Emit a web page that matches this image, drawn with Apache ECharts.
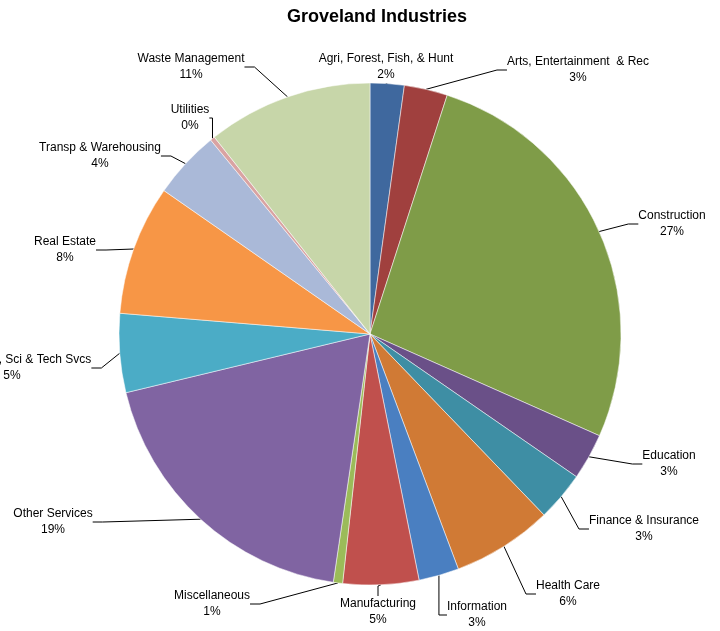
<!DOCTYPE html>
<html>
<head>
<meta charset="utf-8">
<script src="https://cdn.jsdelivr.net/npm/echarts@6/dist/echarts.min.js"></script>
<style>
  html, body { margin: 0; padding: 0; background: #fff; }
  #chart { width: 720px; height: 631px; }
</style>
</head>
<body>
<div id="chart"></div>
<script>
// industry shares (clockwise from 12 o'clock)
const industries = [
  'Agri, Forest, Fish, & Hunt', 'Arts, Entertainment  & Rec', 'Construction',
  'Education', 'Finance & Insurance', 'Health Care', 'Information',
  'Manufacturing', 'Miscellaneous', 'Other Services',
  'Professional, Sci & Tech Svcs', 'Real Estate', 'Transp & Warehousing',
  'Utilities', 'Waste Management'
]
const shares = [2.2, 2.8, 26.8, 3.0, 3.2, 6.5, 2.6, 4.9, 0.6, 19.0, 5.1, 8.4, 4.4, 0.3, 10.7]

const sliceColors = [
  '#3f689e', '#a0403e', '#7f9c48', '#6a5088', '#3e8ea4', '#d07a35', '#4a7fc1',
  '#c0504d', '#9bbb59', '#8064a2', '#4bacc6', '#f79646', '#aab9d8', '#d9a3a2', '#c7d6a9'
]

// where each data label sits (centre of its two-line block)
const labelSpots = [
  [386, 67], [578, 70], [672, 224], [669, 464], [644, 529], [568, 594], [477, 615],
  [378, 612], [212, 604], [53, 522], [12, 368], [65, 250], [100, 156], [190, 118], [191, 67]
]

const chart = echarts.init(document.getElementById('chart'))

chart.setOption({
  animation: false,
  title: {
    text: 'Groveland Industries',
    left: 372,
    top: 3,
    textAlign: 'center',
    textStyle: { fontFamily: 'Liberation Sans', fontSize: 18, fontWeight: 'bold', color: '#000' }
  },
  series: [{
    type: 'pie',
    center: [370, 334],
    radius: 251,
    startAngle: 90,
    clockwise: true,
    avoidLabelOverlap: false,
    itemStyle: { borderColor: '#fff', borderWidth: 0.5 },
    label: {
      position: 'outside',
      fontFamily: 'Liberation Sans',
      fontSize: 12,
      color: '#000',
      lineHeight: 16,
      align: 'center',
      formatter: p => p.name + '\n' + Math.round(p.percent) + '%'
    },
    labelLine: {
      show: true,
      length: 10,
      length2: 10,
      lineStyle: { color: '#000', width: 1 }
    },
    labelLayout: p => ({
      x: labelSpots[p.dataIndex][0],
      y: labelSpots[p.dataIndex][1],
      align: 'center',
      verticalAlign: 'middle'
    }),
    data: industries.map((name, i) => ({
      name: name,
      value: shares[i],
      itemStyle: { color: sliceColors[i] }
    }))
  }]
})
</script>
</body>
</html>
